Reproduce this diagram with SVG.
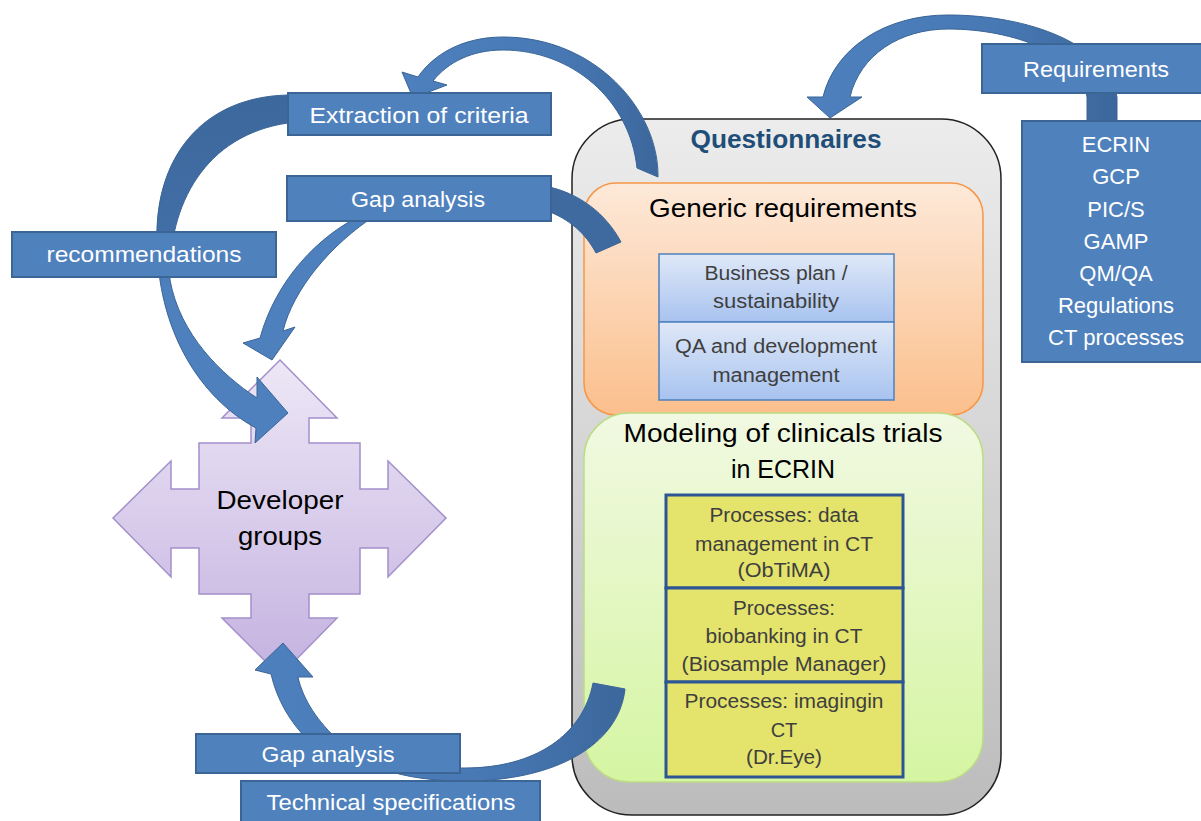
<svg xmlns="http://www.w3.org/2000/svg" width="1201" height="821" viewBox="0 0 1201 821">
<defs>
<linearGradient id="gGray" x1="0" y1="0" x2="0" y2="1"><stop offset="0" stop-color="#ececec"/><stop offset="1" stop-color="#bcbcbc"/></linearGradient>
<linearGradient id="gOrange" x1="0" y1="0" x2="0" y2="1"><stop offset="0" stop-color="#fde9d9"/><stop offset="1" stop-color="#fbbf8c"/></linearGradient>
<linearGradient id="gGreen" x1="0" y1="0" x2="0" y2="1"><stop offset="0" stop-color="#f1f9e2"/><stop offset="1" stop-color="#d5f5a2"/></linearGradient>
<linearGradient id="gBlue" x1="0" y1="0" x2="0" y2="1"><stop offset="0" stop-color="#dfe8f7"/><stop offset="1" stop-color="#a8c3f0"/></linearGradient>
<linearGradient id="gLav" x1="0" y1="0" x2="0" y2="1"><stop offset="0" stop-color="#ede7f6"/><stop offset="1" stop-color="#c4b2e0"/></linearGradient>
<linearGradient id="gH" x1="0" y1="0" x2="1" y2="0"><stop offset="0" stop-color="#4d80bd"/><stop offset="0.6" stop-color="#4879b5"/><stop offset="1" stop-color="#3c679c"/></linearGradient>
<linearGradient id="gV" x1="0" y1="0" x2="0" y2="1"><stop offset="0" stop-color="#3d689d"/><stop offset="0.4" stop-color="#416ea6"/><stop offset="0.55" stop-color="#4d80bd"/><stop offset="1" stop-color="#4d80bd"/></linearGradient>
<style>
.lbl{fill:#4f81bd;stroke:#3b6595;stroke-width:2}
.lt{font-family:"Liberation Sans",Arial,sans-serif;fill:#ffffff;font-size:22px;text-anchor:middle}
.band{stroke:#3a6596;stroke-width:1}
.dk{font-family:"Liberation Sans",Arial,sans-serif;fill:#000;text-anchor:middle}
.gt{font-family:"Liberation Sans",Arial,sans-serif;fill:#3f3f3f;font-size:20px;text-anchor:middle}
.yc{fill:#e4e36b;stroke:#2e5593;stroke-width:3}
.bc{fill:url(#gBlue);stroke:#4f81bd;stroke-width:1.5}
</style>
</defs>
<rect width="1201" height="821" fill="#ffffff"/>

<g id="developer-groups">
<polygon points="280,360 337,418 309,418 309,443 360,443 360,489 388,489 388,461 446,518 388,577 388,548 360,548 360,594 309,594 309,618 337,618 280,676 222,618 251,618 251,594 199,594 199,548 171,548 171,577 113,518 171,461 171,489 199,489 199,443 251,443 251,418 222,418" fill="url(#gLav)" stroke="#a38fca" stroke-width="1.5"/>
<text class="dk" x="280" y="509" font-size="25" textLength="127" lengthAdjust="spacingAndGlyphs">Developer</text>
<text class="dk" x="280" y="545" font-size="25" textLength="84" lengthAdjust="spacingAndGlyphs">groups</text>
</g>

<g id="questionnaires">
<rect x="572" y="119" width="429" height="696" rx="60" fill="url(#gGray)" stroke="#222" stroke-width="1.5"/>
<text x="786" y="148" font-family="'Liberation Sans',Arial,sans-serif" font-size="25" font-weight="bold" fill="#1f4e79" text-anchor="middle" textLength="191" lengthAdjust="spacingAndGlyphs">Questionnaires</text>
</g>

<g id="generic-requirements">
<rect x="584" y="183" width="399" height="232" rx="32" fill="url(#gOrange)" stroke="#f79646" stroke-width="1.5"/>
<text class="dk" x="783" y="217" font-size="25" textLength="268" lengthAdjust="spacingAndGlyphs">Generic requirements</text>
</g>

<g id="business-plan">
<rect class="bc" x="659" y="254" width="235" height="68"/>
<text class="gt" x="776" y="280" font-size="21" textLength="143" lengthAdjust="spacingAndGlyphs">Business plan /</text>
<text class="gt" x="776" y="308" font-size="21" textLength="126" lengthAdjust="spacingAndGlyphs">sustainability</text>
</g>
<g id="qa-development">
<rect class="bc" x="659" y="322" width="235" height="78"/>
<text class="gt" x="776" y="353" font-size="21" textLength="202" lengthAdjust="spacingAndGlyphs">QA and development</text>
<text class="gt" x="776" y="382" font-size="21" textLength="127" lengthAdjust="spacingAndGlyphs">management</text>
</g>

<g id="modeling">
<rect x="584" y="413" width="399" height="369" rx="45" fill="url(#gGreen)" stroke="#bcdc86" stroke-width="1.5"/>
<text class="dk" x="783" y="442" font-size="25" textLength="319" lengthAdjust="spacingAndGlyphs">Modeling of clinicals trials</text>
<text class="dk" x="783" y="478" font-size="25" textLength="104" lengthAdjust="spacingAndGlyphs">in ECRIN</text>
</g>

<g id="proc-data">
<rect class="yc" x="666" y="495" width="237" height="93"/>
<text class="gt" x="784" y="522" textLength="149" lengthAdjust="spacingAndGlyphs">Processes: data</text>
<text class="gt" x="784" y="551" textLength="178" lengthAdjust="spacingAndGlyphs">management in CT</text>
<text class="gt" x="784" y="577" textLength="93" lengthAdjust="spacingAndGlyphs">(ObTiMA)</text>
</g>
<g id="proc-biobanking">
<rect class="yc" x="666" y="588" width="237" height="94"/>
<text class="gt" x="784" y="615" textLength="102" lengthAdjust="spacingAndGlyphs">Processes:</text>
<text class="gt" x="784" y="643" textLength="157" lengthAdjust="spacingAndGlyphs">biobanking in CT</text>
<text class="gt" x="784" y="671" textLength="205" lengthAdjust="spacingAndGlyphs">(Biosample Manager)</text>
</g>
<g id="proc-imaging">
<rect class="yc" x="666" y="682" width="237" height="95"/>
<text class="gt" x="784" y="708" textLength="199" lengthAdjust="spacingAndGlyphs">Processes: imagingin</text>
<text class="gt" x="784" y="737">CT</text>
<text class="gt" x="784" y="764" textLength="76" lengthAdjust="spacingAndGlyphs">(Dr.Eye)</text>
</g>

<g id="connectors">
<path class="band" fill="url(#gH)" d="M1117,121 L1117,97 C1108,45 1030,15 948,15 C885,15 835,48 823,97 L807,97 L830,118 L862,97 L850,97 C860,55 900,29 948,29 C1015,29 1080,55 1087,97 L1087,121 Z"/>
<path class="band" fill="url(#gH)" d="M658,177 C659,110 595,37 503,37 C462,37 433,55 418,77 L402,72 L413,98 L447,85 L433,81 C448,62 472,50 503,50 C572,50 630,100 637,168 Z"/>
<path class="band" fill="url(#gV)" d="M300,95 L288,95 C200,97 155,160 157,240 C157,330 200,398 256,428 L255,443 L288,413 L257,377 L257,398 C222,375 180,335 170,280 C168,205 205,135 288,123 L300,123 Z"/>
<path class="band" fill="#4d80bd" d="M362,215 C318,236 276,280 260,338 L243,343 L272,360 L295,327 L283,331 C293,290 330,245 376,215 Z"/>
<path class="band" fill="#3e6aa0" d="M545,186 C580,193 606,214 621,242 L596,253 C586,234 570,219 545,210 Z"/>
<path class="band" fill="url(#gH)" d="M625,689 C619,745 555,781 465,781 C400,781 360,765 340,742 C318,722 303,700 298,677 L313,677 L283,643 L255,670 L271,674 C277,700 290,722 308,740 C345,770 400,768 465,768 C535,768 583,735 593,683 Z"/>
</g>

<g id="extraction-of-criteria">
<rect class="lbl" x="288" y="93" width="263" height="42"/>
<text class="lt" x="419" y="123" textLength="219" lengthAdjust="spacingAndGlyphs">Extraction of criteria</text>
</g>
<g id="gap-analysis-top">
<rect class="lbl" x="287" y="176" width="264" height="45"/>
<text class="lt" x="418" y="207" textLength="134" lengthAdjust="spacingAndGlyphs">Gap analysis</text>
</g>
<g id="recommendations">
<rect class="lbl" x="12" y="232" width="264" height="45"/>
<text class="lt" x="144" y="262" textLength="195" lengthAdjust="spacingAndGlyphs">recommendations</text>
</g>
<g id="requirements">
<rect class="lbl" x="982" y="44" width="222" height="49"/>
<text class="lt" x="1096" y="77" textLength="146" lengthAdjust="spacingAndGlyphs">Requirements</text>
</g>
<g id="requirements-list">
<rect class="lbl" x="1022" y="121" width="182" height="241"/>
<text class="lt" x="1116" y="152" font-size="21">ECRIN</text>
<text class="lt" x="1116" y="184" font-size="21">GCP</text>
<text class="lt" x="1116" y="217" font-size="21">PIC/S</text>
<text class="lt" x="1116" y="249" font-size="21">GAMP</text>
<text class="lt" x="1116" y="281" font-size="21">QM/QA</text>
<text class="lt" x="1116" y="313" font-size="21">Regulations</text>
<text class="lt" x="1116" y="345" font-size="21" textLength="136" lengthAdjust="spacingAndGlyphs">CT processes</text>
</g>
<g id="gap-analysis-bottom">
<rect class="lbl" x="196" y="734" width="264" height="39"/>
<text class="lt" x="328" y="762" textLength="133" lengthAdjust="spacingAndGlyphs">Gap analysis</text>
</g>
<g id="technical-specifications">
<rect class="lbl" x="241" y="781" width="299" height="44"/>
<text class="lt" x="391" y="810" textLength="249" lengthAdjust="spacingAndGlyphs">Technical specifications</text>
</g>
</svg>
